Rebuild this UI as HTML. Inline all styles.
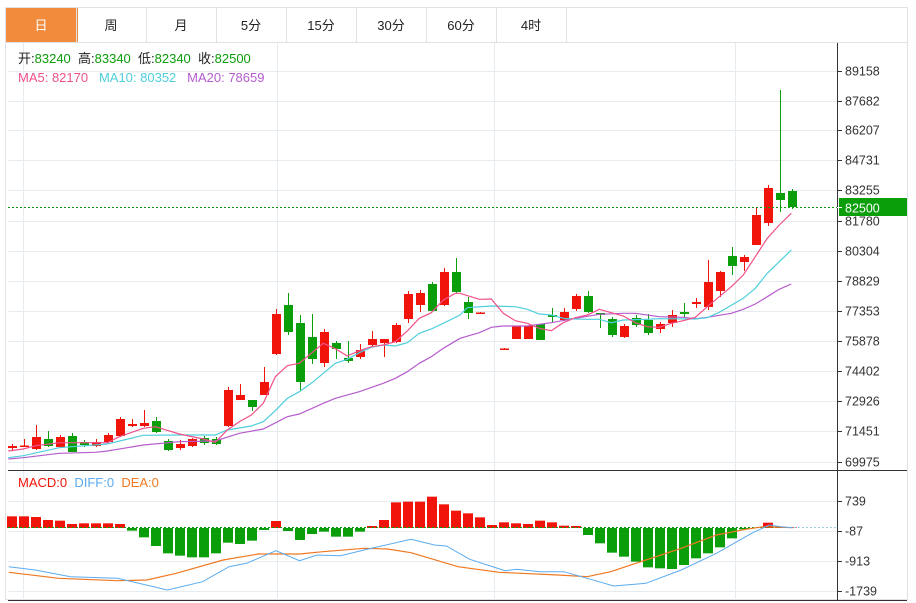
<!DOCTYPE html>
<html><head><meta charset="utf-8"><style>
body{margin:0;background:#fff;width:916px;height:603px;overflow:hidden;font-family:"Liberation Sans","Noto Sans CJK SC",sans-serif}
svg{position:absolute;left:0;top:0}
</style></head><body>
<svg id="s" width="916" height="603" xmlns="http://www.w3.org/2000/svg" font-family="Liberation Sans, Noto Sans CJK SC, sans-serif"></svg>
<script>
var s=document.getElementById('s'),h='';
function L(x1,y1,x2,y2,c,w,d){h+='<line x1="'+x1+'" y1="'+y1+'" x2="'+x2+'" y2="'+y2+'" stroke="'+c+'" stroke-width="'+(w||1)+'"'+(d?' stroke-dasharray="'+d+'"':'')+'/>';}
function R(x,y,w,hh,c){h+='<rect x="'+x+'" y="'+y+'" width="'+w+'" height="'+hh+'" fill="'+c+'"/>';}
function T(x,y,t,c,sz,a){h+='<text x="'+x+'" y="'+y+'" fill="'+c+'" font-size="'+(sz||12)+'"'+(a?' text-anchor="'+a+'"':'')+'>'+t+'</text>';}
function P(pts,c,w){h+='<polyline fill="none" stroke="'+c+'" stroke-width="'+(w||1.2)+'" points="'+pts.map(function(p){return p[0].toFixed(1)+','+p[1].toFixed(1)}).join(' ')+'"/>';}
R(0,0,916,603,'#fff');
h+='<rect x="5.5" y="7.5" width="902" height="592" fill="none" stroke="#dfe3e8"/>';
R(6,8,72,34,'#f28b3c');
var tabs=['日','周','月','5分','15分','30分','60分','4时'];
for(var i=0;i<8;i++){var x=6+70*i;T(x+35,30,tabs[i],i==0?'#fff':'#222',13,'middle');L(x+70.5,8,x+70.5,42,'#dfe3e8');}
L(6,42.5,907,42.5,'#dfe3e8');
var ticks=[[89158,71],[87682,101],[86207,130],[84731,160],[83255,190],[81780,221],[80304,251],[78829,281],[77353,311],[75878,341],[74402,371],[72926,401],[71451,431],[69975,462]];
ticks.forEach(function(t){L(8,t[1]+.5,837,t[1]+.5,'#e6ebf0');L(837,t[1]+.5,842,t[1]+.5,'#333');T(845,t[1]+4.5,t[0],'#333',12.5);});
[23,277,494,735].forEach(function(x){L(x+.5,43,x+.5,600,'#e6ebf0');});
var mt=[[739,501],[-87,531],[-913,561],[-1739,591]];
mt.forEach(function(t){L(8,t[1]+.5,837,t[1]+.5,'#e6ebf0');L(837,t[1]+.5,842,t[1]+.5,'#333');T(845,t[1]+4.5,t[0],'#333',12.5);});
L(8,470.5,907,470.5,'#333');L(8,600.5,907,600.5,'#333');L(837.5,43,837.5,600,'#333');
var RD='#f0140a',GR='#0a9e0a';
var c=[[12,446,448,444,450,1],[24,445.5,447,439,447,1],[36,437,449,425,450,1],[48,439,446,431,447,0],[60,437,447,435,447,1],[72,436,452,433,452,0],[84,442,445,440,447,0],[96,442,446,439,447,1],[108,435,442,433,443,1],[120,419,436,417,437,1],[132,424,426,419,427,1],[144,423,426,410,427,1],[156,421,432,417,433,0],[168,441,450,439,451,0],[180,444,448,440,450,1],[192,439,446,438,447,1],[204,438,443,436,445,0],[216,439,444,437,445,0],[228,390,426,387,427,1],[240,395,400,384,400,1],[252,400,407,400,411,0],[264,382,395,367,395,1],[276,314,354,309,355,1],[288,305,332,293,335,0],[300,323,382,315,391,0],[312,337,359,314,364,0],[324,332,363,329,367,1],[336,343,349,341,359,0],[348,358,361,341,363,0],[360,350,357,344,359,1],[372,339,345,331,346,1],[384,339,343,339,357,1],[396,325,342,323,343,1],[408,294,319,291,323,1],[420,293,305,290,312,1],[432,284,311,282,312,0],[444,272,305,268,306,1],[456,272,292,258,293,0],[468,302,313,297,319,0],[480,312.5,314,312,314,1],[504,348.5,350,348,350,1],[516,326,339,326,339,1],[528,326,339,326,339,1],[540,324,340,324,340,0],[552,315,317,308,322,0],[564,312,320,308,321,1],[576,296,309,294,311,1],[588,296,312,291,313,0],[600,313,315,313,328,0],[612,319,335,317,337,0],[624,326,337,324,338,1],[636,318,325,315,327,0],[648,320,333,314,335,0],[660,324,329,322,333,1],[672,315,323,310,327,1],[684,312,314,303,318,0],[696,302,304,298,308,1],[708,282,307,260,310,1],[720,272,291,271,297,1],[732,256,266,247,275,0],[744,257,262,255,271,1],[756,215,245,207,245,1],[768,188,223,185,226,1],[780,193,200,90,212,0],[792,191,207,189,209,0]];
c.forEach(function(k){var col=k[5]?RD:GR;L(k[0]+.5,k[3],k[0]+.5,k[4],col,1);R(k[0]-4,k[1],9,Math.max(1.5,k[2]-k[1]),col);});
function z2(a){return a.map(function(p){return [p[0]/3,270+p[1]/3];});}
function z3(a){return a.map(function(p){return [460+p[0]/3,80+p[1]/3];});}
var ma5=z2([[25,543],[70,537],[107,527],[178,518],[250,518],[322,518],[358,500],[430,475],[466,470],[538,492],[610,507],[646,517],[682,480],[718,455],[754,435],[790,400],[826,320],[862,287],[898,280],[934,250],[970,220],[1006,236],[1042,258],[1078,242],[1114,230],[1150,225],[1186,215],[1222,183],[1258,145],[1294,128],[1330,90],[1366,70]]).concat(z3([[0,640],[58,658],[94,657],[130,700],[166,722],[202,730],[238,745],[274,752],[310,728],[346,713],[382,705],[418,688],[454,698],[490,708],[526,728],[562,740],[598,742],[634,730],[670,722],[706,712],[742,680],[778,650],[814,620],[850,585],[886,530],[922,475],[958,435],[994,400]]));
var ma10=z2([[25,563],[70,557],[178,533],[322,522],[430,496],[538,495],[646,495],[682,480],[754,468],[790,455],[826,422],[862,385],[898,365],[934,340],[970,310],[1006,280],[1042,268],[1078,248],[1114,232],[1150,225],[1186,228],[1222,218],[1258,190],[1294,177],[1330,160],[1380,135]]).concat(z3([[22,683],[94,678],[166,680],[202,688],[238,702],[274,705],[310,715],[346,717],[382,718],[418,718],[454,728],[490,720],[562,718],[598,716],[706,717],[742,713],[778,697],[850,655],[886,625],[922,580],[958,545],[994,510]]));
var ma20=z2([[25,567],[70,563],[178,550],[286,547],[322,543],[430,525],[538,515],[646,513],[718,490],[790,477],[862,440],[898,432],[970,400],[1006,385],[1078,365],[1150,340],[1186,325],[1222,305],[1258,280],[1294,260],[1330,235],[1380,205]]).concat(z3([[0,775],[58,758],[94,742],[130,738],[202,738],[274,728],[346,715],[418,703],[490,700],[526,700],[598,710],[670,712],[706,716],[742,712],[814,700],[850,688],[886,672],[922,650],[958,628],[994,612]]));
P(ma20,'#b65ccd');P(ma10,'#4fcfdc');P(ma5,'#f0508a');
L(8,207.5,837,207.5,'#0a9e0a',1,'2,2');
R(839,198,68,18,'#0a9e0a');L(837,207.5,842,207.5,'#fff');T(845,212.5,'82500','#fff',12.5);
h+='<text x="18" y="63" font-size="13" fill="#222" xml:space="preserve">开:<tspan fill="#0a9e0a">83240</tspan>  高:<tspan fill="#0a9e0a">83340</tspan>  低:<tspan fill="#0a9e0a">82340</tspan>  收:<tspan fill="#0a9e0a">82500</tspan></text>';
h+='<text x="18" y="82" font-size="13" fill="#f0508a" xml:space="preserve">MA5: 82170   <tspan fill="#4fcfdc">MA10: 80352</tspan>   <tspan fill="#b65ccd">MA20: 78659</tspan></text>';
h+='<text x="18" y="487" font-size="13" fill="#f0140a" xml:space="preserve">MACD:0  <tspan fill="#5aabf0">DIFF:0</tspan>  <tspan fill="#f07820">DEA:0</tspan></text>';
var Z=528;
var bv=[139,139,141,150,152,162,160,160,160,162,-182,-202,-228,-250,-257,-262,-262,-250,-218,-222,-212,-180,153,-183,-210,-192,-185,-200,-200,-185,168,150,97,95,95,80,103,122,130,142,165,157,160,162,152,157,167,168,-195,-220,-248,-260,-275,-292,-295,-297,-285,-265,-250,-232,-205,-178,-174,158,170,172];
bv.forEach(function(v,i){var x=12+12*i;var y=470+Math.abs(v)/3;if(v>0)R(x-5,y,10,Z-y,RD);else R(x-5,Z,10,y-Z,GR);});
L(8,527.5,790,527.5,'#0a9e0a',1,'2,2');L(790,527.5,837,527.5,'#9ad0e6',1,'2,2');
function z4(a){return a.map(function(p){return [p[0]/1.703,470+p[1]/3];});}
P(z4([[15,307],[100,325],[200,332],[250,330],[300,310],[380,270],[440,252],[510,252],[550,245],[620,235],[660,237],[700,248],[780,290],[850,307],[950,315],[1000,320],[1040,305],[1100,270],[1160,235],[1220,195],[1270,178],[1300,170],[1350,173]]),'#f07820');
P(z4([[15,290],[60,300],[120,320],[200,325],[285,360],[345,335],[390,290],[420,280],[470,242],[510,272],[540,255],[580,257],[620,240],[700,208],[740,225],[760,228],[800,268],[830,285],[860,302],[880,298],[920,305],[960,305],[1000,325],[1045,348],[1100,340],[1160,300],[1220,250],[1280,190],[1310,165],[1330,170],[1350,173]]),'#5aabf0',1);
s.innerHTML=h;
</script>
</body></html>
